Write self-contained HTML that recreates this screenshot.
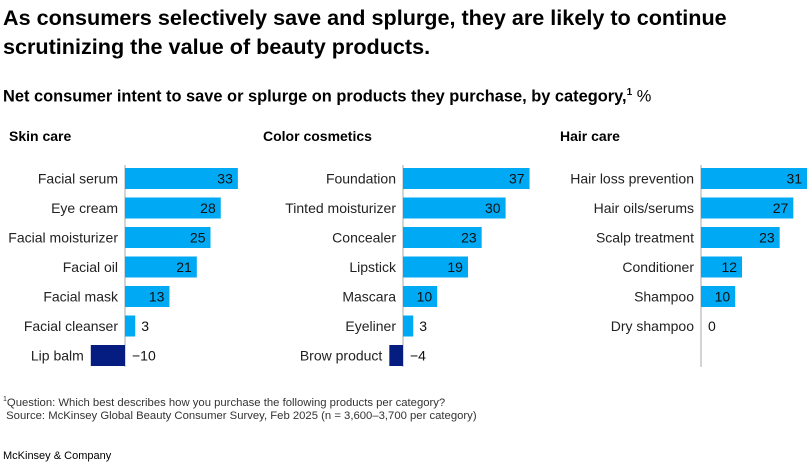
<!DOCTYPE html>
<html><head><meta charset="utf-8"><style>
body{margin:0;background:#fff;font-family:"Liberation Sans",sans-serif;color:#000}
#wrap{position:relative;width:810px;height:469px;overflow:hidden}
.t{position:absolute;white-space:nowrap}
</style></head><body><div id="wrap">
<div class="t" style="left:3px;top:3px;font-size:21.6px;font-weight:bold;line-height:29px">As consumers selectively save and splurge, they are likely to continue<br>scrutinizing the value of beauty products.</div>
<div class="t" style="left:3px;top:87px;font-size:16.4px;font-weight:bold">Net consumer intent to save or splurge on products they purchase, by category,<sup style="font-size:10px">1</sup> <span style="font-weight:normal">%</span></div>
<div class="t" style="left:3px;top:393px;font-size:11.3px;line-height:13px;color:#333"><sup style="font-size:7px">1</sup>Question: Which best describes how you purchase the following products per category?<br>&nbsp;Source: McKinsey Global Beauty Consumer Survey, Feb 2025 (n = 3,600–3,700 per category)</div>
<div class="t" style="left:3px;top:450px;font-size:11px">McKinsey &amp; Company</div>
<svg id="svg" width="810" height="469" style="position:absolute;left:0;top:0"></svg>
</div>
<script>
const skinCats=["Facial serum","Eye cream","Facial moisturizer","Facial oil","Facial mask","Facial cleanser","Lip balm"];
const skinVals=[33,28,25,21,13,3,-10];
const colorCats=["Foundation","Tinted moisturizer","Concealer","Lipstick","Mascara","Eyeliner","Brow product"];
const colorVals=[37,30,23,19,10,3,-4];
const hairCats=["Hair loss prevention","Hair oils/serums","Scalp treatment","Conditioner","Shampoo","Dry shampoo"];
const hairVals=[31,27,23,12,10,0];
const panelTitles=["Skin care","Color cosmetics","Hair care"];
const NS="http://www.w3.org/2000/svg";
const svg=document.getElementById('svg');
const scale=3.42,rowH=29.5,firstY=168,barH=21;
function mk(tag,attrs){const e=document.createElementNS(NS,tag);for(const k in attrs)e.setAttribute(k,attrs[k]);svg.appendChild(e);return e;}
function panel(title,cats,vals,axisX,titleX,key){
  const x=v=>axisX+v*scale;
  const y=i=>firstY+i*rowH;
  const tt=mk('text',{x:titleX,y:141,'font-size':14,'font-weight':'bold','font-family':'Liberation Sans'});tt.textContent=title;
  
  
  const ax=mk('line',{x1:axisX,x2:axisX,y1:165,y2:367,stroke:'#aaa','stroke-width':1});
  
  
  cats.forEach((c,i)=>{
    const v=vals[i];const cy=y(i)+barH/2+5;
    const lab=mk('text',{x:Math.min(axisX,x(v))-7,y:cy,'font-size':14,'text-anchor':'end',fill:'#222','font-family':'Liberation Sans'});lab.textContent=c;
    
    
    if(v!==0){
      const r=mk('rect',{x:Math.min(x(0),x(v)),y:y(i),width:Math.abs(x(v)-x(0)),height:barH,fill:v<0?'#051c80':'#00a9f4'});
      
      
    }
    let tx,anchor;
    if(v>=10){tx=x(v)-5;anchor='end';}
    else if(v>0){tx=x(v)+6;anchor='start';}
    else{tx=axisX+7;anchor='start';}
    const vl=mk('text',{x:tx,y:cy,'font-size':14,'text-anchor':anchor,fill:'#111','font-family':'Liberation Sans'});
    vl.textContent=v<0?'\u2212'+Math.abs(v):String(v);
    
    
  });
}
panel(panelTitles[0],skinCats,skinVals,125,9,'skin-care');
panel(panelTitles[1],colorCats,colorVals,403,263,'color-cosmetics');
panel(panelTitles[2],hairCats,hairVals,701,560,'hair-care');
</script></body></html>
